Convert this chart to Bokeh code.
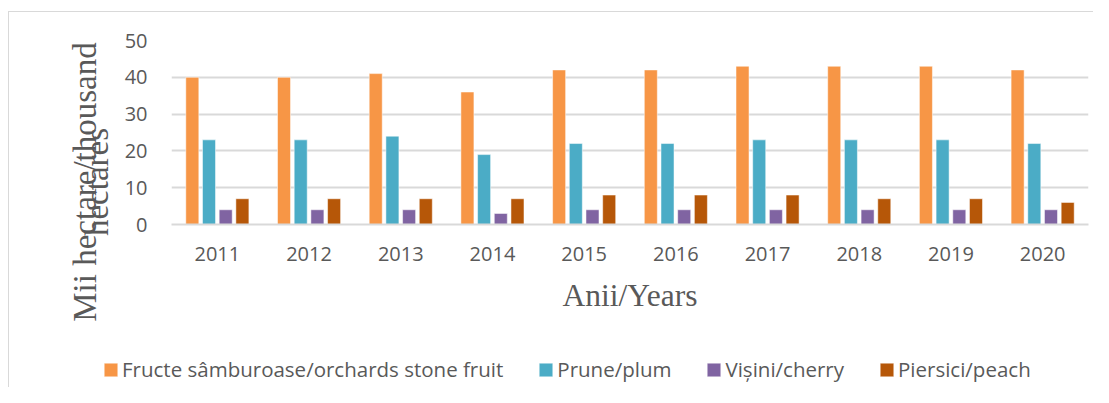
from bokeh.plotting import figure
from bokeh.layouts import column
from bokeh.models import (FactorRange, Range1d, FixedTicker, ColumnDataSource,
                          Legend, LegendItem, LinearAxis)
from bokeh.transform import dodge
from bokeh.embed import file_html
from bokeh.resources import INLINE

years = ["2011", "2012", "2013", "2014", "2015", "2016", "2017", "2018", "2019", "2020"]
stone_fruit = [40, 40, 41, 36, 42, 42, 43, 43, 43, 42]
plum = [23, 23, 24, 19, 22, 22, 23, 23, 23, 22]
cherry = [4, 4, 4, 3, 4, 4, 4, 4, 4, 4]
peach = [7, 7, 7, 7, 8, 8, 8, 7, 7, 6]
series_labels = ["Fructe sâmburoase/orchards stone fruit", "Prune/plum", "Vișini/cherry", "Piersici/peach"]
y_ticks = [0, 10, 20, 30, 40, 50]
x_title = "Anii/Years"
y_title_lines = ["Mii hectare/thousand", "hectares"]

colors = ["#F79646", "#4BACC6", "#8064A2", "#B65708"]
offsets = [-0.273, -0.091, 0.091, 0.273]
TEXT = "#595959"
PAD = " " * 12  # trailing room: moves the rotated title down, as in the reference

src = ColumnDataSource(dict(year=years, stone=stone_fruit, plum=plum, cherry=cherry, peach=peach))
cols = ["stone", "plum", "cherry", "peach"]

# main chart
p = figure(x_range=FactorRange(factors=years), y_range=Range1d(0, 50),
           width=1084, height=332, output_backend="svg", toolbar_location=None,
           min_border_left=162, min_border_right=5, min_border_top=28, min_border_bottom=120)
p.outline_line_color = None

for col, c, off in zip(cols, colors, offsets):
    p.vbar(x=dodge("year", off, range=p.x_range), top=col, width=0.142, source=src,
           fill_color=c, line_color="white", line_alpha=0.5, line_width=1)

p.xgrid.visible = False
p.ygrid.grid_line_color = "#D9D9D9"
p.ygrid.grid_line_width = 2


def style_title(ax, text, standoff):
    ax.axis_label = text + PAD
    ax.axis_label_text_font = "Liberation Serif"
    ax.axis_label_text_font_size = "33px"
    ax.axis_label_text_font_style = "normal"
    ax.axis_label_text_color = TEXT
    ax.axis_label_standoff = standoff


p.yaxis.ticker = FixedTicker(ticks=y_ticks)
p.yaxis.axis_line_color = None
p.yaxis.major_tick_line_color = None
p.yaxis.minor_tick_line_color = None
p.yaxis.major_label_standoff = 18
p.yaxis.major_label_text_font = "Open Sans"
p.yaxis.major_label_text_font_size = "20px"
p.yaxis.major_label_text_color = TEXT
style_title(p.yaxis[0], y_title_lines[1], 7)

# outer, label-only axis carrying the first line of the y title
ax2 = LinearAxis(ticker=FixedTicker(ticks=[]), axis_line_color=None,
                 major_tick_line_color=None, minor_tick_line_color=None,
                 major_tick_out=0, minor_tick_out=0, major_label_standoff=0)
style_title(ax2, y_title_lines[0], -27)
p.add_layout(ax2, "left")

p.xaxis.axis_line_color = "#D9D9D9"
p.xaxis.axis_line_width = 2
p.xaxis.major_tick_line_color = None
p.xaxis.major_label_standoff = 16
p.xaxis.major_label_text_font = "Open Sans"
p.xaxis.major_label_text_font_size = "20px"
p.xaxis.major_label_text_color = TEXT
p.xaxis.axis_label = x_title
p.xaxis.axis_label_text_font = "Liberation Serif"
p.xaxis.axis_label_text_font_size = "31.5px"
p.xaxis.axis_label_text_font_style = "normal"
p.xaxis.axis_label_text_color = TEXT
p.xaxis.axis_label_standoff = 14

# legend strip
q = figure(x_range=FactorRange(factors=years), y_range=Range1d(100, 101),
           width=1084, height=43, output_backend="svg", toolbar_location=None,
           x_axis_location=None, y_axis_location=None, min_border=0)
q.outline_line_color = None
q.grid.visible = False
for fig in (p, q):
    if "frame_align" in fig.properties():
        fig.frame_align = False
items = []
for col, lab, c in zip(cols, series_labels, colors):
    r = q.vbar(x="year", top=col, width=0.142, source=src,
               fill_color=c, line_color="white", line_alpha=0.5, line_width=1)
    items.append(LegendItem(label=lab, renderers=[r]))

lg = Legend(items=items, orientation="horizontal", location=(93, 4),
            glyph_width=17, glyph_height=17, label_standoff=3, spacing=34,
            padding=0, margin=0, border_line_color=None, background_fill_alpha=0,
            label_text_font="Open Sans", label_text_font_size="20.5px", label_text_color=TEXT)
q.add_layout(lg)

layout = column(p, q, spacing=0)
layout.styles = {"border-left": "1px solid #D9D9D9", "border-top": "1px solid #D9D9D9",
                 "margin-top": "11px", "margin-left": "8px"}

open("out.html", "w").write(file_html(layout, INLINE))
